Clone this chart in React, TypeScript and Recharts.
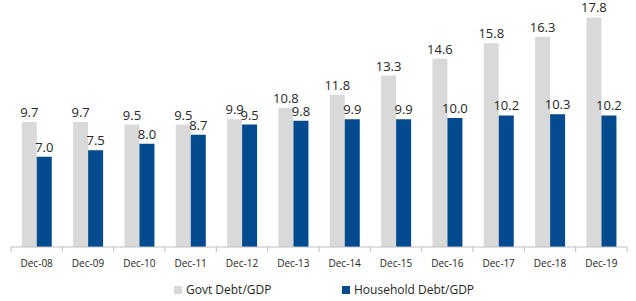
import { Bar, BarChart, LabelList, Legend, XAxis, YAxis } from "recharts";

const periods = ["Dec-08", "Dec-09", "Dec-10", "Dec-11", "Dec-12", "Dec-13", "Dec-14", "Dec-15", "Dec-16", "Dec-17", "Dec-18", "Dec-19"];
const govtDebt = [9.7, 9.7, 9.5, 9.5, 9.9, 10.8, 11.8, 13.3, 14.6, 15.8, 16.3, 17.8];
const householdDebt = [7.0, 7.5, 8.0, 8.7, 9.5, 9.8, 9.9, 9.9, 10.0, 10.2, 10.3, 10.2];

const GREY = "#d9d9d9";
const BLUE = "#044a8e";
const FONT = "'Open Sans', 'Noto Sans', sans-serif";
const W = 636;
const H = 301;
const LEFT = 11;
const RIGHT = 9;
const BAND = (W - LEFT - RIGHT) / periods.length;

const data = periods.map((p, i) => ({
  period: p,
  govt: govtDebt[i],
  household: householdDebt[i],
}));

function Tick(props: any) {
  const { x, y, payload, index } = props;
  const last = index === periods.length - 1;
  return (
    <g>
      <line x1={x - BAND / 2} x2={x - BAND / 2} y1={y - 8} y2={y - 3} stroke="#bfbfbf" />
      {last && <line x1={x + BAND / 2} x2={x + BAND / 2} y1={y - 8} y2={y - 3} stroke="#bfbfbf" />}
      <text x={x} y={y + 12} textAnchor="middle" fontSize={10} fill="#262626" fontFamily={FONT}>
        {payload.value}
      </text>
    </g>
  );
}

function LegendBox() {
  const items = [
    { label: "Govt Debt/GDP", color: GREY, x: 174 },
    { label: "Household Debt/GDP", color: BLUE, x: 342 },
  ];
  return (
    <div style={{ position: "relative", height: 30 }}>
      {items.map((it) => (
        <div
          key={it.label}
          style={{ position: "absolute", left: it.x, top: 10, display: "flex", alignItems: "center", fontFamily: FONT, fontSize: 12, color: "#262626" }}
        >
          <span style={{ width: 8, height: 8, background: it.color, marginRight: 4, display: "inline-block" }} />
          {it.label}
        </div>
      ))}
    </div>
  );
}

export default function App() {
  return (
    <div style={{ position: "absolute", left: 0, top: 0, background: "#fff" }}>
      <BarChart
        width={W}
        height={H}
        data={data}
        margin={{ top: 2, right: RIGHT, left: LEFT, bottom: 0 }}
        barCategoryGap="21%"
        barGap={0}
      >
        <XAxis
          dataKey="period"
          height={24}
          axisLine={{ stroke: "#bfbfbf" }}
          tickLine={false}
          tick={<Tick />}
          interval={0}
        />
        <YAxis hide domain={[0, 19]} />
        <Legend verticalAlign="bottom" height={30} content={() => <LegendBox />} wrapperStyle={{ left: 0, width: W }} />
        <Bar dataKey="govt" fill={GREY} isAnimationActive={false}>
          <LabelList dataKey="govt" position="top" fontSize={13} fill="#262626" fontFamily={FONT} formatter={(v: any) => Number(v).toFixed(1)} />
        </Bar>
        <Bar dataKey="household" fill={BLUE} isAnimationActive={false}>
          <LabelList dataKey="household" position="top" fontSize={13} fill="#262626" fontFamily={FONT} formatter={(v: any) => Number(v).toFixed(1)} />
        </Bar>
      </BarChart>
    </div>
  );
}
